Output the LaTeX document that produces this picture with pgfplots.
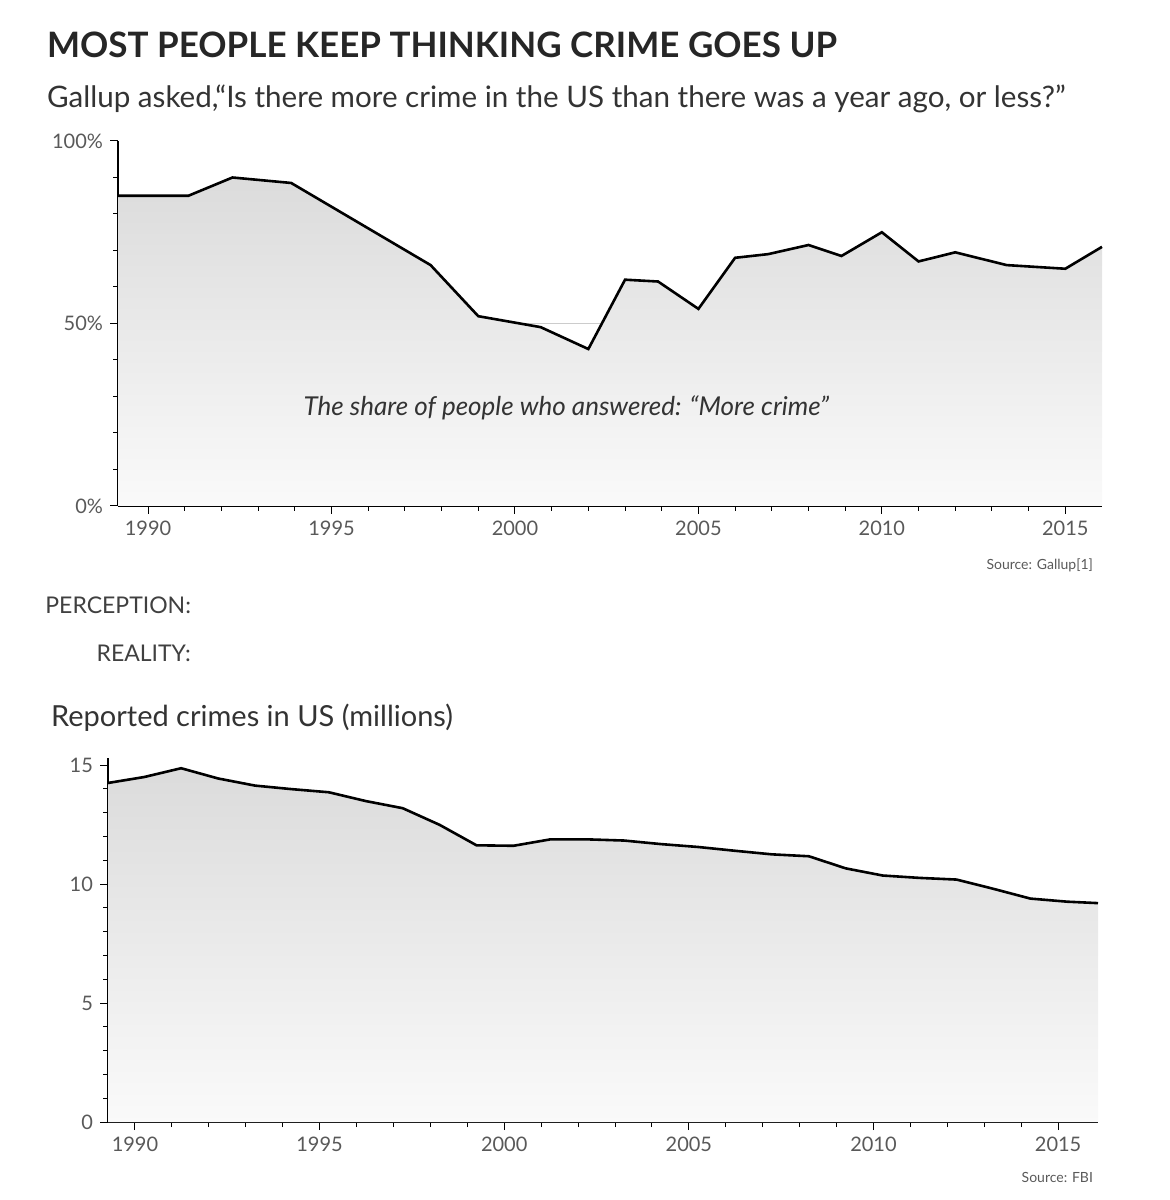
\documentclass[border=0pt]{standalone}
\usepackage{fontspec}
\setmainfont{Lato}
\usepackage{pgfplots}
\pgfplotsset{compat=1.18}
\usetikzlibrary{arrows.meta}
\definecolor{tl}{gray}{0.35}
\pgfplotsset{
  common/.style={
    scale only axis, axis lines*=left, tick align=outside,
    axis line style={black, line width=0.6pt},
    major tick length=4pt, minor tick length=2.5pt,
    every tick/.style={black, line width=0.5pt},
    tick label style={font=\fontsize{10}{12}\selectfont, text=tl},
    /pgf/number format/assume math mode=true,
    /pgf/number format/1000 sep={},
    clip=false,
  }
}
\begin{document}
\begin{tikzpicture}
\path[use as bounding box] (0,0) rectangle (585pt,600pt);
% titles
\node[anchor=base west, font=\fontsize{17.5}{20}\selectfont\bfseries, text=black!85] at (20pt,571pt) {MOST PEOPLE KEEP THINKING CRIME GOES UP};
\node[anchor=base west, font=\fontsize{14.8}{17}\selectfont, text=black!80] at (20pt,546pt) {Gallup asked,``Is there more crime in the US than there was a year ago, or less?''};
\node[anchor=base east, font=\fontsize{7}{8}\selectfont, text=tl] at (550pt,315pt) {Source: Gallup[1]};
\node[anchor=base east, font=\fontsize{11.5}{13}\selectfont, text=black!75] at (99pt,293pt) {PERCEPTION:};
\node[anchor=base east, font=\fontsize{11.5}{13}\selectfont, text=black!75] at (99pt,269pt) {REALITY:};
\node[anchor=base west, font=\fontsize{14.5}{17}\selectfont, text=black!80] at (22pt,236.5pt) {Reported crimes in US (millions)};
\node[anchor=base east, font=\fontsize{7}{8}\selectfont, text=tl] at (550pt,9pt) {Source: FBI};

% top axis
\begin{axis}[common, at={(59pt,347pt)}, anchor=origin,
  width=492pt, height=182.5pt,
  xmin=1989.18, xmax=2016, ymin=0, ymax=100,
  xtick={1990,1995,...,2015}, minor x tick num=4,
  ytick={0,50,100}, yticklabels={0\%,50\%,100\%}, minor y tick num=4,
  ]
\draw[gray!40, line width=0.5pt] (axis cs:1989.18,50) -- (axis cs:2016,50);
\addplot[draw=none, top color=gray!28, bottom color=gray!4] coordinates {
(1989.18,85) (1991.1,85) (1992.3,90) (1993.9,88.5) (1997.7,66) (1999.0,52) (2000.7,49) (2002.0,43) (2003.0,62) (2003.9,61.5) (2005.0,54) (2006.0,68) (2006.9,69) (2008.0,71.5) (2008.9,68.5) (2010.0,75) (2011.0,67) (2012.0,69.5) (2013.4,66) (2015.0,65) (2016.0,71)} \closedcycle;
\addplot[black, line width=1.3pt, mark=none] coordinates {
(1989.18,85) (1991.1,85) (1992.3,90) (1993.9,88.5) (1997.7,66) (1999.0,52) (2000.7,49) (2002.0,43) (2003.0,62) (2003.9,61.5) (2005.0,54) (2006.0,68) (2006.9,69) (2008.0,71.5) (2008.9,68.5) (2010.0,75) (2011.0,67) (2012.0,69.5) (2013.4,66) (2015.0,65) (2016.0,71)};
\node[font=\fontsize{13}{15}\selectfont\itshape, text=black!80] at (axis cs:2001.4,27) {The share of people who answered: ``More crime''};
\end{axis}

% bottom axis
\begin{axis}[common, at={(54pt,39pt)}, anchor=origin,
  width=495pt, height=182pt,
  xmin=1989.27, xmax=2016.08, ymin=0, ymax=15.3,
  xtick={1990,1995,...,2015}, minor x tick num=4,
  ytick={0,5,10,15}, minor y tick num=4,
  ]
\addplot[draw=none, top color=gray!28, bottom color=gray!4] coordinates {
(1989.27,14.25) (1990.25,14.5) (1991.25,14.87) (1992.25,14.44) (1993.25,14.14) (1994.25,13.99) (1995.25,13.86) (1996.25,13.49) (1997.25,13.19) (1998.25,12.49) (1999.25,11.63) (2000.25,11.61) (2001.25,11.88) (2002.25,11.88) (2003.25,11.83) (2004.25,11.68) (2005.25,11.56) (2006.25,11.40) (2007.25,11.25) (2008.25,11.17) (2009.25,10.66) (2010.25,10.36) (2011.25,10.26) (2012.25,10.19) (2013.25,9.80) (2014.25,9.39) (2015.25,9.26) (2016.08,9.20)} \closedcycle;
\addplot[black, line width=1.3pt, mark=none] coordinates {
(1989.27,14.25) (1990.25,14.5) (1991.25,14.87) (1992.25,14.44) (1993.25,14.14) (1994.25,13.99) (1995.25,13.86) (1996.25,13.49) (1997.25,13.19) (1998.25,12.49) (1999.25,11.63) (2000.25,11.61) (2001.25,11.88) (2002.25,11.88) (2003.25,11.83) (2004.25,11.68) (2005.25,11.56) (2006.25,11.40) (2007.25,11.25) (2008.25,11.17) (2009.25,10.66) (2010.25,10.36) (2011.25,10.26) (2012.25,10.19) (2013.25,9.80) (2014.25,9.39) (2015.25,9.26) (2016.08,9.20)};
\end{axis}

% arrows overlay in pixel coordinates
\begin{axis}[at={(0pt,0pt)}, anchor=origin, scale only axis, width=585pt, height=600pt,
  xmin=0, xmax=1170, ymin=0, ymax=1200, y dir=reverse, hide axis, clip=false]
\addplot[black!80, quiver={u=\thisrow{u}, v=\thisrow{v},
   every arrow/.append style={line width=3.2pt, -{Triangle[length=7pt,width=9pt]}}}]
  table {
x y u v
226 613 10 -10
263 613 10 -10
300 613 10 -10
337 613 10 -10
374 613 10 -10
410 613 10 -10
447 613 10 -10
484 613 10 -10
521 613 10 -10
631 613 10 -10
668 613 10 -10
705 613 10 -10
741 613 10 -10
778 613 10 -10
815 613 10 -10
852 613 10 -10
889 613 10 -10
925 613 10 -10
962 613 10 -10
999 613 10 -10
1036 613 10 -10
1073 613 10 -10
521 661 10 -10
};
\addplot[gray!70, quiver={u=\thisrow{u}, v=\thisrow{v},
   every arrow/.append style={line width=4.2pt, -{Triangle[length=8pt,width=10.5pt]}}}]
  table {
x y u v
558 598 10 10
594 598 10 10
226 646 10 10
263 646 10 10
300 646 10 10
337 646 10 10
374 646 10 10
410 646 10 10
447 646 10 10
631 646 10 10
668 646 10 10
705 646 10 10
741 646 10 10
778 646 10 10
815 646 10 10
852 646 10 10
889 646 10 10
962 646 10 10
999 646 10 10
1036 646 10 10
1073 646 10 10
};
\addplot[gray!15, quiver={u=\thisrow{u}, v=\thisrow{v},
   every arrow/.append style={line width=2.6pt, -{Triangle[length=6pt,width=8pt]}}}]
  table {
x y u v
557 597 10 10
593 597 10 10
225 645 10 10
262 645 10 10
299 645 10 10
336 645 10 10
373 645 10 10
409 645 10 10
446 645 10 10
630 645 10 10
667 645 10 10
704 645 10 10
740 645 10 10
777 645 10 10
814 645 10 10
851 645 10 10
888 645 10 10
961 645 10 10
998 645 10 10
1035 645 10 10
1072 645 10 10
};
\addplot[gray!70, quiver={u=\thisrow{u}, v=\thisrow{v},
   every arrow/.append style={line width=4.2pt, -{Triangle[length=8pt,width=10.5pt]}}}]
  table {
x y u v
480 654 12 0
555 654 12 0
591 654 12 0
922 654 12 0
};
\addplot[gray!15, quiver={u=\thisrow{u}, v=\thisrow{v},
   every arrow/.append style={line width=2.6pt, -{Triangle[length=6pt,width=8pt]}}}]
  table {
x y u v
481 654 11 0
556 654 11 0
592 654 11 0
923 654 11 0
};
\end{axis}
\end{tikzpicture}
\end{document}
